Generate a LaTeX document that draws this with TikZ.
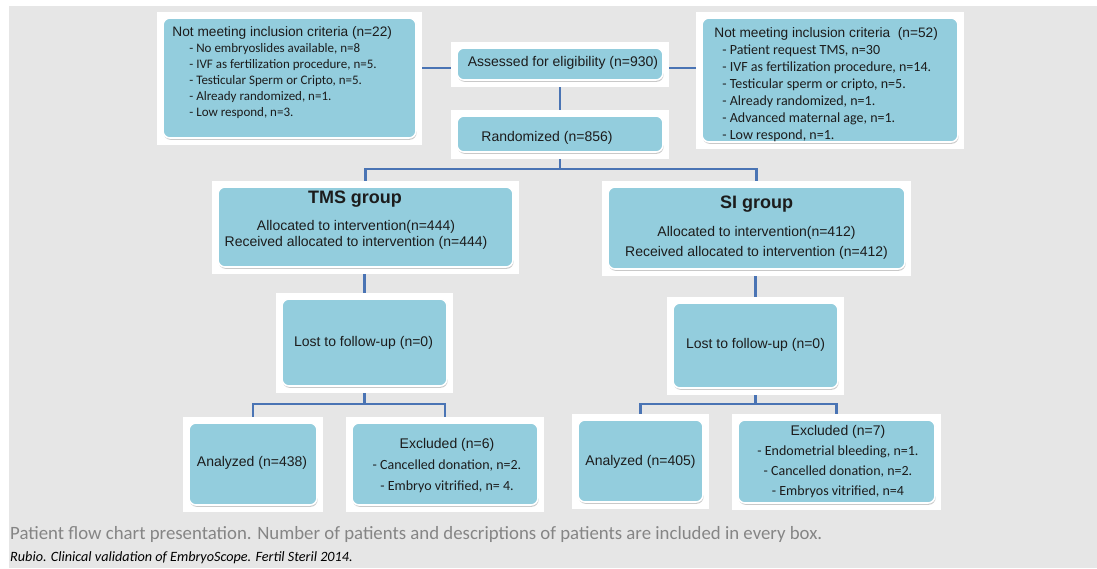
\documentclass[tikz,border=0pt]{standalone}
\usepackage{fontspec}
\setmainfont{Liberation Sans}
\newfontfamily\calib{Carlito}
\usetikzlibrary{calc,shadows}

\definecolor{boxblue}{HTML}{93CDDD}
\definecolor{linkblue}{HTML}{4A74B4}
\definecolor{pagegray}{HTML}{E6E6E6}
\definecolor{inkdark}{HTML}{1C1C1C}
\definecolor{capgray}{HTML}{858585}

\pgfdeclarelayer{paper}
\pgfdeclarelayer{links}
\pgfdeclarelayer{halos}
\pgfsetlayers{paper,links,halos,main}

\tikzset{
  box/.style={rectangle, rounded corners=7pt, fill=boxblue, draw=white,
    line width=1.6pt, inner sep=0pt,
    drop shadow={shadow xshift=0.6pt, shadow yshift=-1.8pt, opacity=0.35, fill=black!60}},
  txt/.style={inner sep=0pt, text=inkdark, font=\fontsize{14}{16}\selectfont},
  link/.style={draw=linkblue, line width=2.2pt},
}

\begin{document}
\begin{tikzpicture}[x=1pt,y=-1pt]
\useasboundingbox (0,0) rectangle (1097,568);

\begin{pgfonlayer}{paper}
  \fill[white] (0,0) rectangle (1097,568);
  \fill[pagegray] (9,6) rectangle (1097,568);
\end{pgfonlayer}

% ---- boxes ----
\node[box, minimum width=253pt, minimum height=120pt] (exL)    at (289.5,78)  {};
\node[box, minimum width=206pt, minimum height=32pt]  (assess) at (560,64)    {};
\node[box, minimum width=256pt, minimum height=124pt] (exR)    at (830,80)    {};
\node[box, minimum width=206pt, minimum height=36pt]  (rand)   at (560,134)   {};
\node[box, minimum width=295pt, minimum height=80pt]  (tms)    at (365.5,227) {};
\node[box, minimum width=297pt, minimum height=82pt]  (si)     at (756.5,228) {};
\node[box, minimum width=165pt, minimum height=87pt]  (lostT)  at (364.5,342.5) {};
\node[box, minimum width=165pt, minimum height=85pt]  (lostS)  at (755.5,345.5) {};
\node[box, minimum width=128pt, minimum height=82pt]  (anT)    at (253,464)   {};
\node[box, minimum width=186pt, minimum height=82pt]  (exT)    at (445,464)   {};
\node[box, minimum width=125pt, minimum height=82pt]  (anS)    at (640.5,461) {};
\node[box, minimum width=197pt, minimum height=83pt]  (exS)    at (836.5,461.5) {};

% white frames behind every box
\begin{pgfonlayer}{halos}
  \foreach \n in {exL,assess,exR,rand,tms,si,lostT,lostS,anT,exT,anS,exS}
    \fill[white] ($(\n.north west)+(-5,-5)$) rectangle ($(\n.south east)+(5,6)$);
\end{pgfonlayer}

% ---- connectors ----
\begin{pgfonlayer}{links}
  \coordinate (aw) at ([yshift=-4pt]assess.west);
  \coordinate (ae) at ([yshift=-4pt]assess.east);
  \draw[link] (aw) -- (aw -| exL.east);
  \draw[link] (ae) -- (ae -| exR.west);
  \draw[link] (assess.south) -- (rand.north);
  \draw[link] (rand.south) -- ++(0,16) coordinate (rsplit);
  \draw[link] (tms.north) |- (rsplit) -| (si.north);
  \draw[link] (tms.south -| lostT.north) -- (lostT.north);
  \draw[link] (si.south -| lostS.north) -- (lostS.north);
  \draw[link] (lostT.south) -- ++(0,17) coordinate (tsplit);
  \draw[link] (anT.north) |- (tsplit) -| (exT.north);
  \draw[link] (lostS.south) -- ++(0,15) coordinate (ssplit);
  \draw[link] (anS.north) |- (ssplit) -| (exS.north);
\end{pgfonlayer}

% ---- texts ----
\node[txt, anchor=north west, align=left, font=\fontsize{13}{16}\selectfont] (exLt)
  at ($(exL.north west)+(10,9)$)
  {{\fontsize{13.7}{16}\selectfont Not meeting inclusion criteria (n=22)}\\
   \calib\hspace*{17pt}- No embryoslides available, n=8\\
   \calib\hspace*{17pt}- IVF as fertilization procedure, n=5.\\
   \calib\hspace*{17pt}- Testicular Sperm or Cripto, n=5.\\
   \calib\hspace*{17pt}- Already randomized, n=1.\\
   \calib\hspace*{17pt}- Low respond, n=3.};

\node[txt, anchor=north west, align=left, font=\fontsize{14}{17}\selectfont] (exRt)
  at ($(exR.north west)+(13,10)$)
  {{\fontsize{13.7}{17}\selectfont Not meeting inclusion criteria\ \ (n=52)}\\
   \calib\hspace*{8pt}- Patient request TMS, n=30\\
   \calib\hspace*{8pt}- IVF as fertilization procedure, n=14.\\
   \calib\hspace*{8pt}- Testicular sperm or cripto, n=5.\\
   \calib\hspace*{8pt}- Already randomized, n=1.\\
   \calib\hspace*{8pt}- Advanced maternal age, n=1.\\
   \calib\hspace*{8pt}- Low respond, n=1.};

\node[txt] (assesst) at ($(assess)+(3,-1)$) {Assessed for eligibility (n=930)};
\node[txt] (randt)   at ($(rand)+(-13,4)$)  {Randomized (n=856)};

\node[txt, font=\bfseries\fontsize{18}{20}\selectfont] (tmst) at ($(tms)+(-10.5,-28)$) {TMS group};
\node[txt, align=center] (tmsb) at ($(tms)+(-9.5,8)$)
  {Allocated to intervention(n=444)\\Received allocated to intervention (n=444)};

\node[txt, font=\bfseries\fontsize{18}{20}\selectfont] (sit) at ($(si)+(0,-24)$) {SI group};
\node[txt, align=center, font=\fontsize{14}{20}\selectfont] (sib) at ($(si)+(0,15)$)
  {Allocated to intervention(n=412)\\Received allocated to intervention (n=412)};

\node[txt] (lostTt) at ($(lostT)+(-1,0)$) {Lost to follow-up (n=0)};
\node[txt] (lostSt) at ($(lostS)+(0,-1)$) {Lost to follow-up (n=0)};

\node[txt] (anTt) at ($(anT)+(-1,-1)$) {Analyzed (n=438)};
\node[txt] (anSt) at ($(anS)+(0,1)$)   {Analyzed (n=405)};

\node[txt, align=center, font=\fontsize{14}{21}\selectfont] (exTt) at ($(exT)+(2,2)$)
  {Excluded (n=6)\\
   \calib - Cancelled donation, n=2.\\
   \calib - Embryo vitrified, n= 4.};

\node[txt, align=center, font=\fontsize{14}{20.3}\selectfont] (exSt) at ($(exS)+(1.5,0)$)
  {Excluded (n=7)\\
   \calib - Endometrial bleeding, n=1.\\
   \calib - Cancelled donation, n=2.\\
   \calib - Embryos vitrified, n=4};

% ---- caption ----
\node[anchor=base west, inner sep=0pt, text=capgray, font=\calib\fontsize{18.8}{22}\selectfont] (cap)
  at (10,539.5) {Patient flow chart presentation. Number of patients and descriptions of patients are included in every box.};
\node[anchor=base west, inner sep=0pt, text=black, font=\calib\itshape\fontsize{14.2}{16}\selectfont] (cite)
  at (10,561.5) {Rubio. Clinical validation of EmbryoScope. Fertil Steril 2014.};
\end{tikzpicture}
\end{document}
